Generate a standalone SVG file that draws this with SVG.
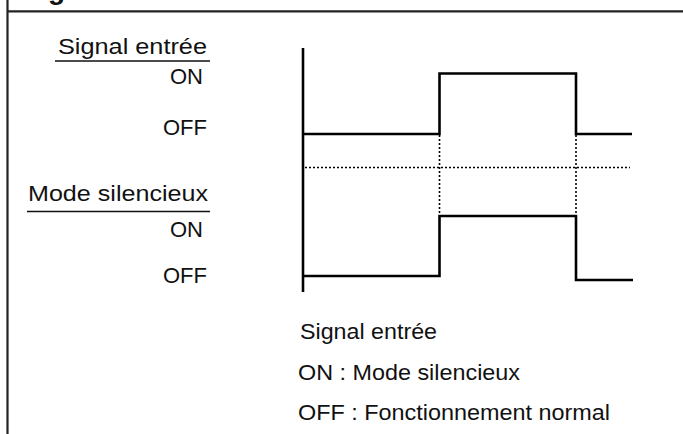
<svg xmlns="http://www.w3.org/2000/svg" width="683" height="434" viewBox="0 0 683 434">
<style>
  text { font-family: "Liberation Sans", Arial, sans-serif; fill: #111; }
  .lbl { font-size: 22px; }
  .title { font-size: 28px; font-weight: bold; }
  .frame { stroke: #222; stroke-width: 2.2; fill: none; }
  .wave { stroke: #000; stroke-width: 2.6; fill: none; stroke-linejoin: miter; }
  .dot { stroke: #000; stroke-width: 1.6; fill: none; stroke-dasharray: 2 2; }
  .ul { stroke: #111; stroke-width: 1.6; }
</style>
<rect width="683" height="434" fill="#fff"/>
<g id="frame">
  <line class="frame" x1="7.5" y1="0" x2="7.5" y2="434"/>
  <line class="frame" x1="7.5" y1="11.3" x2="683" y2="11.3"/>
  <text class="title" x="23" y="-1">Figure</text>
</g>
<g id="label-signal">
  <text class="lbl" x="58" y="54" textLength="149" lengthAdjust="spacingAndGlyphs">Signal entrée</text>
  <line class="ul" x1="55" y1="61" x2="210" y2="61"/>
  <text class="lbl" x="203" y="84" text-anchor="end">ON</text>
  <text class="lbl" x="207" y="135" text-anchor="end">OFF</text>
</g>
<g id="label-mode">
  <text class="lbl" x="28" y="201" textLength="180" lengthAdjust="spacingAndGlyphs">Mode silencieux</text>
  <line class="ul" x1="27" y1="211.5" x2="210" y2="211.5"/>
  <text class="lbl" x="203" y="237" text-anchor="end">ON</text>
  <text class="lbl" x="207" y="283" text-anchor="end">OFF</text>
</g>
<g id="connectors">
  <line class="wave" x1="303" y1="48" x2="303" y2="292"/>
  <polyline class="wave" points="303,134 439.5,134 439.5,73.5 576,73.5 576,134 632,134"/>
  <line class="dot" x1="305" y1="167.5" x2="630" y2="167.5"/>
  <line class="dot" x1="439.5" y1="135" x2="439.5" y2="215"/>
  <line class="dot" x1="576" y1="135" x2="576" y2="215"/>
  <polyline class="wave" points="303,276 439.5,276 439.5,216 576,216 576,280 633,280"/>
</g>
<g id="legend">
  <text class="lbl" x="300" y="339" textLength="137" lengthAdjust="spacingAndGlyphs">Signal entrée</text>
  <text class="lbl" x="298" y="380" textLength="222" lengthAdjust="spacingAndGlyphs">ON : Mode silencieux</text>
  <text class="lbl" x="298" y="420" textLength="312" lengthAdjust="spacingAndGlyphs">OFF : Fonctionnement normal</text>
</g>
</svg>
